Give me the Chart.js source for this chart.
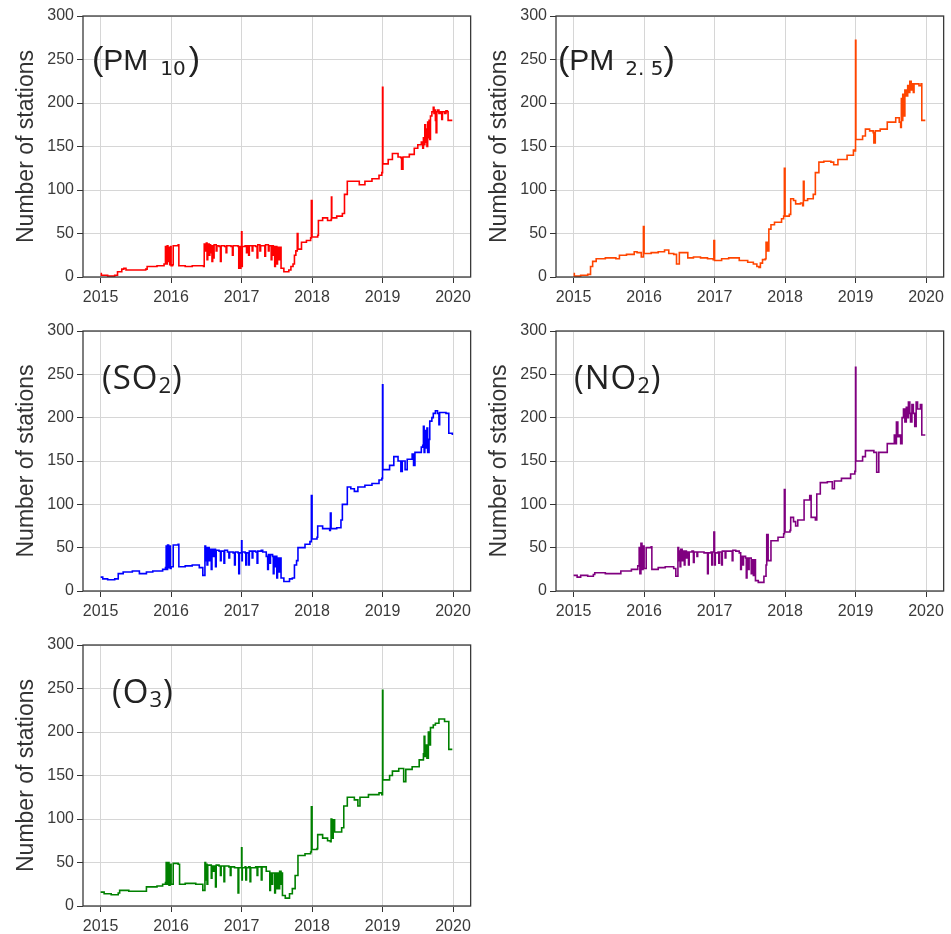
<!DOCTYPE html>
<html><head><meta charset="utf-8">
<script src="https://cdn.jsdelivr.net/npm/chart.js@4.4.1/dist/chart.umd.min.js"></script>
<style>
html,body{margin:0;padding:0;background:#fff;width:951px;height:934px;overflow:hidden;position:relative}
canvas{position:absolute}
.lbl{position:absolute;color:#222;white-space:nowrap;line-height:1}
.arial{font-family:"Liberation Sans",Arial,sans-serif;font-size:30px}
.open{font-family:"Open Sans","Noto Sans",sans-serif;font-size:33px;letter-spacing:1px}
.par{font-size:34px}
.dsub{font-family:"DejaVu Sans",sans-serif;font-size:20px;position:relative;top:5px}
.osub{font-size:22px;position:relative;top:4px}
</style></head><body>
<canvas id="c1" width="476" height="305" style="left:0;top:0"></canvas>
<canvas id="c2" width="476" height="305" style="left:473px;top:0"></canvas>
<canvas id="c3" width="476" height="304" style="left:0;top:315px"></canvas>
<canvas id="c4" width="476" height="304" style="left:473px;top:315px"></canvas>
<canvas id="c5" width="476" height="305" style="left:0;top:629px"></canvas>

<div class="lbl arial" style="left:92px;top:41px"><span class="par">(</span>PM<span class="dsub" style="margin-left:12px">10</span><span class="par" style="margin-left:3px">)</span></div>
<div class="lbl arial" style="left:558px;top:41px"><span class="par">(</span>PM<span class="dsub" style="margin-left:11px">2. 5</span><span class="par" style="margin-left:0px">)</span></div>
<div class="lbl open" style="left:102px;top:360px">(SO<span class="osub">2</span>)</div>
<div class="lbl open" style="left:574px;top:360px">(NO<span class="osub">2</span>)</div>
<div class="lbl open" style="left:112px;top:674px">(O<span class="osub">3</span>)</div>

<script>
// ---- tick labels ----
const yearTicks = [2015, 2016, 2017, 2018, 2019, 2020];
const stationTicks = [0, 50, 100, 150, 200, 250, 300];

// ---- series: [decimal year, number of stations] ----
const pm10 = [[2015.0,4],[2015.01,2],[2015.1,1],[2015.2,2],[2015.24,6],[2015.3,9],[2015.33,10],[2015.36,8],[2015.5,8],[2015.64,9],[2015.66,12],[2015.8,13],[2015.9,15],
[2015.92,35],[2015.93,15],[2015.945,36],[2015.955,18],[2015.97,34],[2015.98,14],[2015.995,35],[2016.0,13],[2016.02,14],[2016.03,36],[2016.1,37],[2016.11,13],[2016.2,12],[2016.3,13],[2016.46,12],
[2016.47,38],[2016.49,30],[2016.5,39],[2016.51,20],[2016.52,38],[2016.54,25],[2016.55,37],[2016.56,28],[2016.57,36],[2016.58,18],[2016.59,36],[2016.6,22],[2016.61,37],[2016.64,30],[2016.65,36],[2016.68,35],[2016.7,18],[2016.71,36],[2016.76,35],[2016.78,28],[2016.79,36],[2016.85,35],[2016.87,25],[2016.88,36],[2016.95,35],[2016.96,10],[2016.97,35],[2016.985,10],[2016.99,35],
[2017.0,52],[2017.005,12],[2017.01,35],[2017.05,36],[2017.07,28],[2017.08,36],[2017.1,25],[2017.11,36],[2017.15,30],[2017.16,36],[2017.2,35],[2017.22,22],[2017.23,37],[2017.26,30],[2017.27,36],[2017.3,36],[2017.33,24],[2017.34,37],[2017.38,30],[2017.39,36],[2017.42,20],[2017.43,36],[2017.45,25],[2017.46,35],[2017.47,12],[2017.48,35],[2017.5,15],[2017.51,34],[2017.53,20],[2017.54,34],
[2017.56,10],[2017.6,6],[2017.67,8],[2017.7,12],[2017.73,15],[2017.75,25],[2017.77,30],[2017.79,50],[2017.8,32],[2017.85,40],[2017.92,42],[2017.98,45],[2017.99,88],[2018.0,46],[2018.08,48],[2018.09,65],[2018.15,68],[2018.22,65],[2018.27,66],[2018.275,92],[2018.28,68],[2018.35,70],[2018.43,73],[2018.46,95],[2018.5,110],[2018.6,110],[2018.67,106],[2018.75,110],[2018.85,113],[2018.95,117],[2018.99,120],
[2019.0,218],[2019.005,130],[2019.08,135],[2019.14,142],[2019.22,138],[2019.26,137],[2019.27,124],[2019.29,138],[2019.38,141],[2019.45,148],[2019.5,152],[2019.55,155],[2019.57,148],[2019.58,160],[2019.59,152],[2019.6,175],[2019.61,155],[2019.62,170],[2019.63,150],[2019.64,178],[2019.65,160],[2019.66,180],[2019.67,158],[2019.68,185],[2019.7,190],[2019.72,195],[2019.73,188],[2019.74,192],[2019.75,180],[2019.76,166],[2019.77,190],[2019.78,192],[2019.8,188],[2019.82,190],[2019.84,181],[2019.85,190],[2019.88,188],[2019.9,191],[2019.92,190],[2019.93,180],[2019.99,180]];

const pm25 = [[2015.0,4],[2015.01,1],[2015.1,2],[2015.2,3],[2015.24,12],[2015.27,18],[2015.32,21],[2015.45,22],[2015.6,21],[2015.65,25],[2015.75,26],[2015.86,29],[2015.9,28],[2015.96,23],[2015.99,58],[2016.0,27],[2016.1,28],[2016.2,29],[2016.29,31],[2016.35,27],[2016.42,26],[2016.46,15],[2016.5,28],[2016.58,28],[2016.62,22],[2016.7,23],[2016.8,22],[2016.9,21],[2016.98,20],[2016.99,42],[2017.0,19],[2017.1,21],[2017.2,22],[2017.28,22],[2017.35,19],[2017.47,17],[2017.55,15],[2017.6,12],[2017.63,11],[2017.65,16],[2017.68,20],[2017.72,21],[2017.73,40],[2017.75,30],[2017.77,55],[2017.8,60],[2017.85,63],[2017.95,67],[2017.98,70],
[2017.99,125],[2018.0,70],[2018.06,72],[2018.08,90],[2018.12,88],[2018.15,84],[2018.22,85],[2018.25,82],[2018.26,110],[2018.27,88],[2018.32,90],[2018.4,95],[2018.43,120],[2018.48,132],[2018.55,133],[2018.65,132],[2018.69,129],[2018.75,135],[2018.88,140],[2018.97,146],[2018.99,145],
[2019.0,272],[2019.005,158],[2019.1,162],[2019.14,170],[2019.2,168],[2019.25,166],[2019.26,154],[2019.28,168],[2019.35,170],[2019.45,178],[2019.57,183],[2019.62,178],[2019.64,172],[2019.65,205],[2019.66,180],[2019.67,210],[2019.68,185],[2019.7,215],[2019.72,208],[2019.74,220],[2019.75,212],[2019.77,225],[2019.79,215],[2019.8,222],[2019.82,212],[2019.83,222],[2019.9,220],[2019.93,222],[2019.94,180],[2019.99,180]];

const so2 = [[2015.0,16],[2015.03,14],[2015.1,13],[2015.2,14],[2015.25,20],[2015.32,22],[2015.45,23],[2015.55,20],[2015.65,22],[2015.74,23],[2015.88,25],[2015.92,27],[2015.93,52],[2015.94,25],[2015.95,53],[2015.965,27],[2015.98,52],[2015.99,26],[2016.0,28],[2016.03,53],[2016.1,54],[2016.11,28],[2016.2,29],[2016.3,30],[2016.4,27],[2016.45,18],
[2016.48,52],[2016.49,35],[2016.5,50],[2016.51,30],[2016.52,50],[2016.54,35],[2016.55,48],[2016.57,25],[2016.58,48],[2016.6,40],[2016.61,48],[2016.63,28],[2016.64,47],[2016.68,46],[2016.7,35],[2016.71,46],[2016.75,32],[2016.76,47],[2016.8,45],[2016.82,38],[2016.83,45],[2016.88,44],[2016.9,30],[2016.91,45],[2016.95,44],[2016.96,20],[2016.97,44],
[2017.0,58],[2017.005,35],[2017.01,45],[2017.05,44],[2017.06,30],[2017.07,44],[2017.1,30],[2017.11,46],[2017.15,38],[2017.16,46],[2017.2,45],[2017.22,32],[2017.23,46],[2017.28,47],[2017.3,45],[2017.35,40],[2017.37,25],[2017.38,42],[2017.4,32],[2017.41,42],[2017.44,40],[2017.45,20],[2017.46,40],[2017.48,28],[2017.49,40],[2017.5,15],[2017.51,38],[2017.53,22],[2017.54,38],
[2017.56,15],[2017.6,11],[2017.68,14],[2017.72,15],[2017.75,30],[2017.78,35],[2017.8,50],[2017.9,54],[2017.97,57],[2017.99,110],[2018.0,60],[2018.07,62],[2018.08,75],[2018.15,72],[2018.25,70],[2018.26,90],[2018.27,72],[2018.35,73],[2018.41,82],[2018.43,100],[2018.5,120],[2018.55,118],[2018.6,115],[2018.65,120],[2018.75,122],[2018.85,124],[2018.95,128],[2018.99,130],
[2019.0,238],[2019.005,140],[2019.1,145],[2019.16,155],[2019.22,150],[2019.26,138],[2019.28,150],[2019.32,140],[2019.35,152],[2019.42,158],[2019.44,145],[2019.46,160],[2019.55,166],[2019.57,168],[2019.58,190],[2019.59,160],[2019.6,185],[2019.61,165],[2019.63,188],[2019.64,160],[2019.66,175],[2019.67,196],[2019.7,200],[2019.72,205],[2019.75,208],[2019.78,205],[2019.8,192],[2019.81,206],[2019.9,205],[2019.92,205],[2019.94,182],[2019.99,180]];

const no2 = [[2015.0,18],[2015.05,16],[2015.1,18],[2015.2,17],[2015.28,19],[2015.3,21],[2015.45,20],[2015.6,20],[2015.67,23],[2015.82,25],[2015.91,29],[2015.93,50],[2015.94,20],[2015.955,55],[2015.97,25],[2015.985,52],[2016.0,26],[2016.03,50],[2016.1,51],[2016.11,25],[2016.2,27],[2016.3,28],[2016.42,26],[2016.45,17],
[2016.48,50],[2016.49,35],[2016.5,46],[2016.51,28],[2016.52,48],[2016.54,35],[2016.55,46],[2016.57,30],[2016.58,46],[2016.6,38],[2016.61,45],[2016.63,30],[2016.64,45],[2016.68,46],[2016.7,33],[2016.71,45],[2016.75,40],[2016.76,45],[2016.85,44],[2016.9,20],[2016.91,44],[2016.95,45],[2016.96,30],[2016.97,45],
[2016.99,68],[2017.0,30],[2017.01,44],[2017.05,45],[2017.06,32],[2017.07,45],[2017.1,30],[2017.11,46],[2017.15,38],[2017.16,46],[2017.2,46],[2017.25,35],[2017.26,47],[2017.3,46],[2017.35,44],[2017.37,25],[2017.38,40],[2017.4,30],[2017.41,40],[2017.44,38],[2017.45,15],[2017.46,38],[2017.48,25],[2017.49,38],[2017.52,20],[2017.53,36],[2017.55,18],[2017.56,36],
[2017.58,12],[2017.62,10],[2017.7,17],[2017.73,30],[2017.74,65],[2017.76,35],[2017.8,58],[2017.9,62],[2017.98,66],[2017.99,117],[2018.0,68],[2018.07,70],[2018.08,85],[2018.12,80],[2018.15,75],[2018.18,82],[2018.25,82],[2018.27,105],[2018.35,110],[2018.37,85],[2018.43,82],[2018.45,112],[2018.5,125],[2018.6,126],[2018.67,118],[2018.7,127],[2018.8,130],[2018.93,135],[2018.99,138],
[2019.0,258],[2019.005,150],[2019.1,155],[2019.14,162],[2019.26,160],[2019.3,137],[2019.33,160],[2019.45,170],[2019.55,180],[2019.57,170],[2019.58,195],[2019.6,178],[2019.62,180],[2019.64,170],[2019.66,200],[2019.68,210],[2019.7,195],[2019.72,212],[2019.74,200],[2019.75,218],[2019.77,205],[2019.78,195],[2019.8,215],[2019.82,205],[2019.84,190],[2019.86,218],[2019.88,210],[2019.92,215],[2019.94,180],[2019.99,180]];

const o3 = [[2015.0,16],[2015.05,14],[2015.15,13],[2015.25,15],[2015.27,18],[2015.4,17],[2015.6,17],[2015.65,22],[2015.8,23],[2015.88,25],[2015.92,27],[2015.93,50],[2015.94,25],[2015.955,50],[2015.97,24],[2015.985,48],[2016.0,25],[2016.03,49],[2016.1,48],[2016.12,25],[2016.2,26],[2016.35,25],[2016.45,18],
[2016.48,50],[2016.49,30],[2016.5,48],[2016.51,25],[2016.52,47],[2016.55,47],[2016.57,32],[2016.58,46],[2016.6,40],[2016.61,46],[2016.63,22],[2016.64,47],[2016.68,46],[2016.7,35],[2016.71,46],[2016.75,28],[2016.76,46],[2016.82,45],[2016.84,35],[2016.85,45],[2016.9,44],[2016.95,15],[2016.96,44],
[2017.0,67],[2017.005,30],[2017.01,44],[2017.05,45],[2017.06,30],[2017.07,44],[2017.1,45],[2017.12,28],[2017.13,44],[2017.2,45],[2017.22,35],[2017.23,45],[2017.28,30],[2017.29,45],[2017.35,40],[2017.38,40],[2017.4,18],[2017.41,38],[2017.43,25],[2017.44,38],[2017.47,15],[2017.48,38],[2017.5,20],[2017.51,38],[2017.53,20],[2017.54,40],[2017.56,25],[2017.57,38],
[2017.58,12],[2017.62,9],[2017.68,14],[2017.72,20],[2017.76,35],[2017.8,58],[2017.9,60],[2017.98,62],[2017.99,114],[2018.0,65],[2018.07,66],[2018.08,82],[2018.15,78],[2018.22,75],[2018.26,74],[2018.27,100],[2018.28,78],[2018.3,99],[2018.32,85],[2018.42,90],[2018.45,115],[2018.5,125],[2018.6,122],[2018.65,115],[2018.68,125],[2018.8,128],[2018.95,130],[2018.99,128],
[2019.0,248],[2019.005,145],[2019.1,150],[2019.14,155],[2019.23,158],[2019.3,143],[2019.33,157],[2019.42,160],[2019.52,168],[2019.58,175],[2019.59,195],[2019.6,172],[2019.62,185],[2019.63,170],[2019.65,200],[2019.66,185],[2019.68,205],[2019.72,208],[2019.75,210],[2019.8,215],[2019.88,212],[2019.92,212],[2019.94,180],[2019.99,180]];

const panels = [
  {id:'c1', data: pm10, color:'#ff0000', name:'PM10'},
  {id:'c2', data: pm25, color:'#ff4500', name:'PM2.5'},
  {id:'c3', data: so2,  color:'#0000ff', name:'SO2'},
  {id:'c4', data: no2,  color:'#800080', name:'NO2'},
  {id:'c5', data: o3,   color:'#008000', name:'O3'}
];

const framePlugin = {
  id: 'frame',
  afterDraw(chart) {
    const a = chart.chartArea, ctx = chart.ctx;
    ctx.save();
    ctx.strokeStyle = '#3a3a3a';
    ctx.lineWidth = 1.3;
    ctx.strokeRect(a.left, a.top, a.right - a.left, a.bottom - a.top);
    ctx.restore();
  }
};

const tickFont = {family: '"Liberation Sans", Arial, sans-serif', size: 16};

panels.forEach(p => {
  const pts = p.data.map(d => ({x: d[0], y: d[1]}));
  new Chart(document.getElementById(p.id), {
    type: 'line',
    data: {datasets: [{label: p.name, data: pts, borderColor: p.color, borderWidth: 1.6,
      pointRadius: 0, stepped: true, fill: false}]},
    options: {
      responsive: false, animation: false, devicePixelRatio: 1,
      layout: {padding: {top: 16, right: 4, left: 0, bottom: 0}},
      plugins: {legend: {display: false}, tooltip: {enabled: false}},
      scales: {
        x: {
          type: 'linear', min: 2014.75, max: 2020.25,
          afterBuildTicks: s => { s.ticks = yearTicks.map(v => ({value: v})); },
          afterFit: s => { s.height = 28; },
          ticks: {callback: v => String(v), font: tickFont, color: '#3a3a3a', padding: 5,
            maxRotation: 0, autoSkip: false},
          grid: {color: '#d6d6d6', lineWidth: 1, tickColor: '#333', tickLength: 6, drawTicks: true},
          border: {display: false}
        },
        y: {
          min: 0, max: 300,
          afterBuildTicks: s => { s.ticks = stationTicks.map(v => ({value: v})); },
          afterFit: s => { s.width = 83; },
          ticks: {font: tickFont, color: '#3a3a3a', padding: 3},
          grid: {color: '#d6d6d6', lineWidth: 1, tickColor: '#333', tickLength: 6, drawTicks: true},
          border: {display: false},
          title: {display: true, text: 'Number of stations', color: '#333',
            font: {family: '"Liberation Sans", Arial, sans-serif', size: 23},
            padding: {top: 13, bottom: 0}}
        }
      }
    },
    plugins: [framePlugin]
  });
});
</script>
</body></html>
